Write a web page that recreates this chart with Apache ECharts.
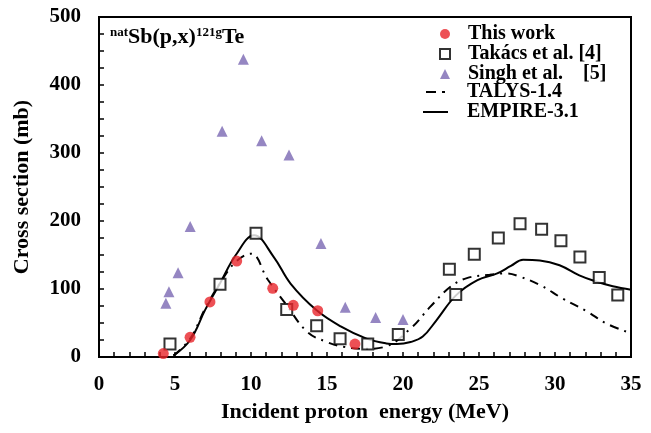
<!DOCTYPE html>
<html>
<head>
<meta charset="utf-8">
<script src="https://cdn.jsdelivr.net/npm/echarts@6/dist/echarts.min.js"></script>
<style>
  html, body { margin: 0; padding: 0; background: #fff; }
  #main { width: 651px; height: 433px; }
</style>
</head>
<body>
<div id="main"></div>
<script>
// 本工作 (red circles)
var thisWorkE = [4.23, 5.99, 7.30, 9.06, 11.43, 12.78, 14.39, 16.84];
var thisWorkV = [5, 29, 81, 141, 101, 76, 68, 19];
// Takács et al. [4]
var takacsE = [4.67, 7.96, 10.33, 12.35, 14.32, 15.86, 17.68, 19.69, 23.05, 23.47, 24.69, 26.27, 27.7, 29.12, 30.39, 31.64, 32.91, 34.13];
var takacsV = [19, 107, 182, 70, 46, 27, 19, 33, 129, 92, 151, 175, 196, 188, 171, 147, 117, 91];
// Singh et al. [5]
var singhE = [4.4, 4.6, 5.2, 6.0, 8.1, 9.5, 10.7, 12.5, 14.6, 16.2, 18.2, 20.0];
var singhV = [79, 96, 124, 192, 332, 438, 318, 297, 167, 73, 58, 55];
// TALYS-1.4
var talysE = [4.9, 6, 7, 8, 9, 10, 11.1, 12.35, 13.7, 15, 16.1, 17.5, 18.8, 20.5, 21.8, 23.1, 24.2, 25.7, 26.8, 27.7, 29, 30.5, 32.1, 33.4, 35];
var talysV = [2, 27, 72, 110, 140, 152, 114, 76, 37, 22, 15, 12, 15, 42, 74, 103, 116, 121, 123, 118, 106, 86, 67, 49, 35];
// EMPIRE-3.1
var empireE = [4.9, 6, 7, 8, 9, 10.2, 11.5, 12.6, 14.3, 15.9, 17.6, 18.9, 19.6, 20.5, 21.3, 22.2, 23.5, 24.9, 26.2, 27.1, 27.9, 29, 30.3, 31.6, 32.7, 33.8, 35];
var empireV = [2, 25, 70, 110, 150, 179, 147, 108, 69, 45, 27, 20, 19, 22, 30, 54, 91, 113, 123, 134, 143, 142, 135, 120, 111, 104, 99];
// 刻度
var xTicks = [0, 5, 10, 15, 20, 25, 30, 35];
var yTicks = [0, 100, 200, 300, 400, 500];

function pairs(xs, ys) {
  return xs.map(function (x, i) { return [x, ys[i]]; });
}

var FONT = 'Liberation Serif';
function legendText(gap) {
  return { fontFamily: FONT, fontWeight: 'bold', fontSize: 20, lineHeight: 19, color: '#000', padding: [0, 0, 0, gap] };
}
var myChart = echarts.init(document.getElementById('main'));
myChart.setOption({
  animation: false,
  backgroundColor: '#fff',
  grid: {
    left: 99, right: 20, top: 17, bottom: 76,
    show: true, borderColor: '#000', borderWidth: 2
  },
  legend: [{
    orient: 'vertical',
    left: 434, top: 19,
    itemWidth: 10, itemHeight: 10, itemGap: 0,
    textStyle: legendText(13),
    data: [
      { name: 'This work', icon: 'circle' },
      { name: 'Takács et al. [4]', icon: 'rect' },
      { name: 'Singh et al.    [5]', icon: 'triangle' }
    ]
  }, {
    orient: 'vertical',
    left: 418, top: 77,
    itemWidth: 25, itemHeight: 2, itemGap: 0,
    textStyle: legendText(14),
    data: [
      { name: 'TALYS-1.4', icon: 'path://M0,0h10v2h-10z M16,0h3v2h-3z', itemStyle: { color: '#000', borderWidth: 0 } },
      { name: 'EMPIRE-3.1', icon: 'rect', itemStyle: { color: '#000', borderWidth: 0 } }
    ]
  }],
  xAxis: {
    type: 'value',
    min: xTicks[0], max: xTicks[xTicks.length - 1], interval: 5,
    name: 'Incident proton  energy (MeV)',
    nameLocation: 'middle', nameGap: 44,
    nameTextStyle: { fontFamily: FONT, fontWeight: 'bold', fontSize: 22, color: '#000' },
    axisLine: { lineStyle: { color: '#000', width: 2 } },
    axisTick: { inside: true, length: 5, lineStyle: { color: '#000', width: 1.5 } },
    minorTick: { show: true, splitNumber: 5, length: 5, lineStyle: { color: '#000', width: 1.5 } },
    axisLabel: { margin: 17, fontFamily: FONT, fontWeight: 'bold', fontSize: 21, color: '#000' },
    splitLine: { show: false }
  },
  yAxis: {
    type: 'value',
    min: yTicks[0], max: yTicks[yTicks.length - 1], interval: 100,
    name: 'Cross section (mb)',
    nameLocation: 'middle', nameGap: 66, nameRotate: 90,
    nameTextStyle: { fontFamily: FONT, fontWeight: 'bold', fontSize: 22, color: '#000' },
    axisLine: { show: true, lineStyle: { color: '#000', width: 2 } },
    axisTick: { show: true, inside: true, length: 5, lineStyle: { color: '#000', width: 1.5 } },
    minorTick: { show: true, splitNumber: 4, length: 5, lineStyle: { color: '#000', width: 1.5 } },
    axisLabel: { margin: 18, fontFamily: FONT, fontWeight: 'bold', fontSize: 21, color: '#000' },
    splitLine: { show: false }
  },
  graphic: [{
    type: 'text',
    left: 110, top: 26,
    style: {
      text: '{s|nat}{m|Sb(p,x)}{s|121g}{m|Te}',
      rich: {
        s: { fontFamily: FONT, fontWeight: 'bold', fontSize: 13, color: '#000', verticalAlign: 'top', padding: [0, 0, 9, 0] },
        m: { fontFamily: FONT, fontWeight: 'bold', fontSize: 22, color: '#000' }
      }
    }
  }],
  series: [
    {
      name: 'EMPIRE-3.1', type: 'line', smooth: 0.4, symbol: 'none',
      lineStyle: { color: '#000', width: 2 },
      itemStyle: { color: '#000' },
      data: pairs(empireE, empireV), z: 2
    },
    {
      name: 'TALYS-1.4', type: 'line', smooth: 0.4, symbol: 'none',
      lineStyle: { color: '#000', width: 2, type: [9, 6, 2, 6] },
      itemStyle: { color: '#000' },
      data: pairs(talysE, talysV), z: 2
    },
    {
      name: 'Singh et al.    [5]', type: 'scatter', symbol: 'triangle', symbolSize: 11,
      itemStyle: { color: '#7a68b3' },
      data: pairs(singhE, singhV), z: 3
    },
    {
      name: 'Takács et al. [4]', type: 'scatter', symbol: 'rect', symbolSize: 11,
      itemStyle: { color: '#fff', borderColor: '#000', borderWidth: 2 },
      data: pairs(takacsE, takacsV), z: 4
    },
    {
      name: 'This work', type: 'scatter', symbol: 'circle', symbolSize: 11,
      itemStyle: { color: '#e8242a' },
      data: pairs(thisWorkE, thisWorkV), z: 5
    }
  ]
});
</script>
</body>
</html>
